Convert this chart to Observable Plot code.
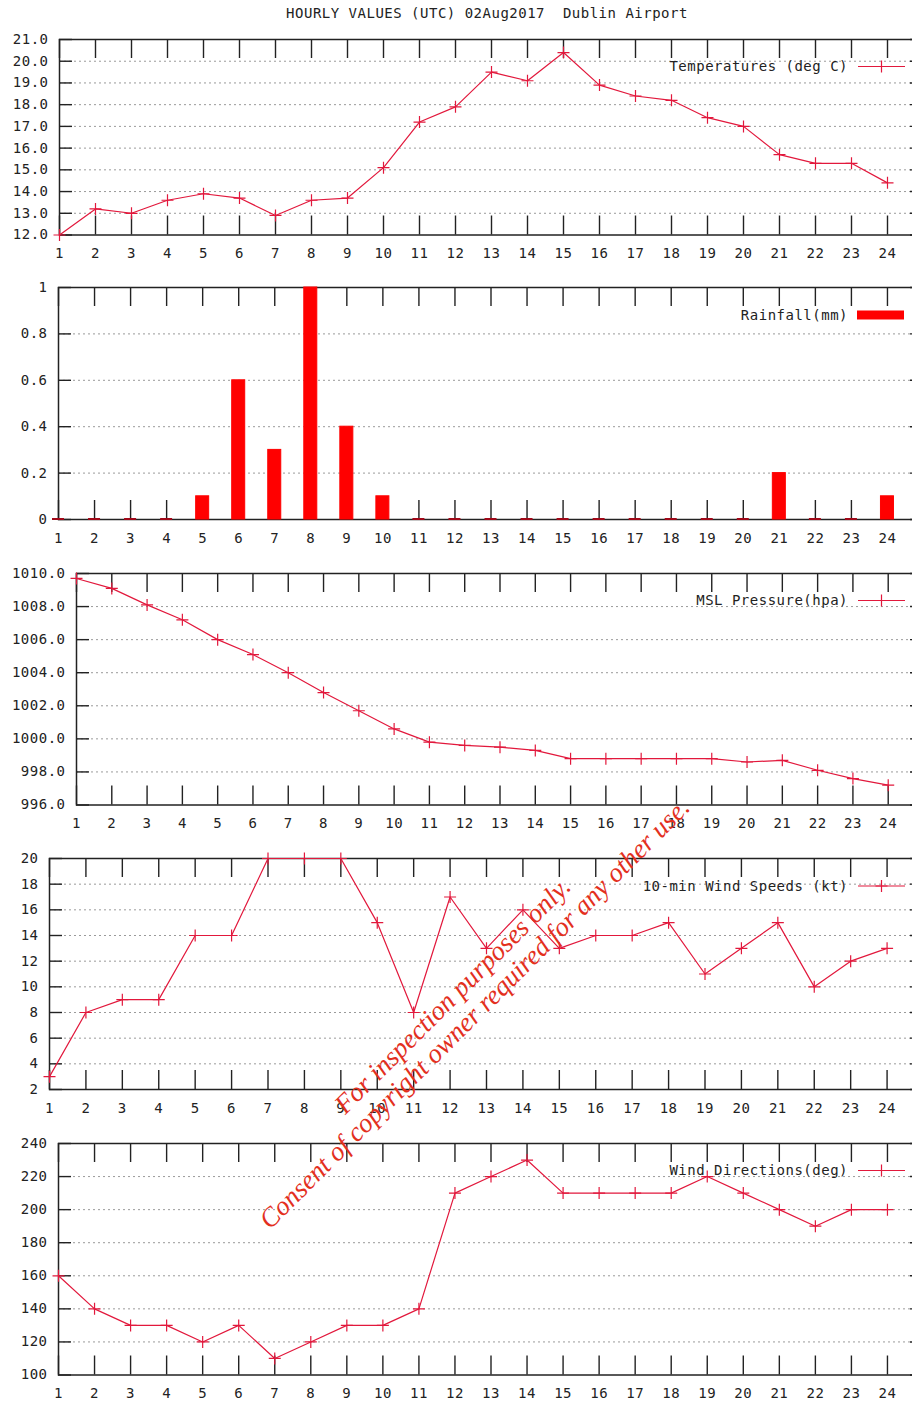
<!DOCTYPE html>
<html>
<head>
<meta charset="utf-8">
<script src="https://cdn.jsdelivr.net/npm/d3@7"></script>
<script src="https://cdn.jsdelivr.net/npm/@observablehq/plot@0.6"></script>
<style>
  html, body { margin: 0; padding: 0; background: #fff; overflow: hidden; }
  #wrap { position: relative; width: 912px; height: 1403px; overflow: hidden; background: #fff; }
  .panel { position: absolute; left: 0; max-width: none !important; }
  #title { position: absolute; left: 0; width: 974px; top: 5px; text-align: center; white-space: pre;
           font-family: "DejaVu Sans Mono", monospace; font-size: 14px; letter-spacing: 0.5px; color: #222; }
  #overlay { position: absolute; left: 0; top: 0; pointer-events: none; }
</style>
</head>
<body>
<div id="wrap">
  <div id="title">HOURLY VALUES (UTC) 02Aug2017  Dublin Airport</div>
</div>
<script>
// ---- data ----
const hours = [1,2,3,4,5,6,7,8,9,10,11,12,13,14,15,16,17,18,19,20,21,22,23,24];
const temperatures = [12.0,13.2,13.0,13.6,13.9,13.7,12.9,13.6,13.7,15.1,17.2,17.9,19.5,19.1,20.4,18.9,18.4,18.2,17.4,17.0,15.7,15.3,15.3,14.4];
const rainfall = [0,0,0,0,0.1,0.6,0.3,1.0,0.4,0.1,0,0,0,0,0,0,0,0,0,0,0.2,0,0,0.1];
const pressure = [1009.7,1009.1,1008.1,1007.2,1006.0,1005.1,1004.0,1002.8,1001.7,1000.6,999.8,999.6,999.5,999.3,998.8,998.8,998.8,998.8,998.8,998.6,998.7,998.1,997.6,997.2];
const windSpeed = [3,8,9,9,14,14,20,20,20,15,8,17,13,16,13,14,14,15,11,13,15,10,12,13];
const windDir = [160,140,130,130,120,130,110,120,130,130,140,210,220,230,210,210,210,210,220,210,200,190,200,200];

const tempTicks = [12,13,14,15,16,17,18,19,20,21];
const rainTicks = [0,0.2,0.4,0.6,0.8,1];
const pressTicks = [996,998,1000,1002,1004,1006,1008,1010];
const speedTicks = [2,4,6,8,10,12,14,16,18,20];
const dirTicks = [100,120,140,160,180,200,220,240];

const legendLabels = ["Temperatures (deg C)", "Rainfall(mm)", "MSL Pressure(hpa)", "10-min Wind Speeds (kt)", "Wind Directions(deg)"];

// ---- style ----
const RED = "#e2183c";
const BAR = "#ff0000";
const INK = "#222";
const FRAME_RIGHT = 923;

const plusSymbol = {
  draw(ctx, size) {
    const r = Math.sqrt(size / Math.PI);
    ctx.moveTo(-r, 0); ctx.lineTo(r, 0);
    ctx.moveTo(0, -r); ctx.lineTo(0, r);
  }
};

function panel(cfg) {
  const {top, bottom, left, domain, ticks, fmt, values, kind} = cfg;
  const W = FRAME_RIGHT - left, H = bottom - top;
  const mt = 10, mb = 35, mr = 6;
  const data = hours.map((h, i) => ({hour: h, value: values[i]}));
  const inner = ticks.slice(1, -1);
  const dataMarks = kind === "bar"
    ? [Plot.rectY(data.filter(d => d.value > 0), {x1: "hour", x2: "hour", y: "value", insetLeft: -6.5, insetRight: -6.5,
         fill: BAR, stroke: BAR, strokeWidth: 1}),
       Plot.rectY(data.filter(d => d.value === 0), {x1: "hour", x2: "hour", y1: "value", y2: "value",
         insetLeft: -6, insetRight: -6, insetTop: -1, insetBottom: -1, fill: "#a00818"})]
    : [Plot.line(data, {x: "hour", y: "value", stroke: RED, strokeWidth: 1.2}),
       Plot.dot(data, {x: "hour", y: "value", symbol: plusSymbol, r: 6, fill: "none", stroke: RED, strokeWidth: 1.2})];
  const chart = Plot.plot({
    width: FRAME_RIGHT + mr, height: H + mt + mb,
    marginLeft: left, marginRight: mr, marginTop: mt, marginBottom: mb,
    x: {domain: [1, 25], ticks: hours, tickSize: 0, tickPadding: 13.5, tickFormat: d => String(d), label: null},
    y: {domain, ticks, tickSize: 0, tickPadding: 11, tickFormat: fmt, label: null},
    style: {fontFamily: "DejaVu Sans Mono, monospace", fontSize: "14px", letterSpacing: "0.5px",
            color: INK, background: "transparent", overflow: "visible", maxWidth: "none"},
    marks: [
      Plot.ruleY(inner, {y: d => d, stroke: "#9a9a9a", strokeDasharray: "2,3", strokeWidth: 1}),
      Plot.tickX(hours, {x: d => d, insetBottom: H - 19, stroke: INK, strokeWidth: 1.4}),
      Plot.tickX(hours, {x: d => d, insetTop: H - 19, stroke: INK, strokeWidth: 1.4}),
      Plot.tickY(ticks, {y: d => d, insetRight: W - 13, stroke: INK, strokeWidth: 1.4}),
      Plot.tickY(ticks, {y: d => d, insetLeft: W - 13, stroke: INK, strokeWidth: 1.4}),
      Plot.frame({stroke: INK, strokeWidth: 1.5}),
      ...dataMarks
    ]
  });
  chart.classList.add("panel");
  chart.style.maxWidth = "none";
  chart.style.top = (top - mt) + "px";
  document.getElementById("wrap").appendChild(chart);
}

const f1 = d3.format(".1f");
const panels = [
  {top: 38.5, bottom: 234, left: 59, domain: [12, 21], ticks: tempTicks, fmt: f1, values: temperatures, kind: "line"},
  {top: 287, bottom: 519, left: 58, domain: [0, 1], ticks: rainTicks, fmt: d => String(d), values: rainfall, kind: "bar"},
  {top: 572.5, bottom: 804, left: 76, domain: [996, 1010], ticks: pressTicks, fmt: f1, values: pressure, kind: "line"},
  {top: 858, bottom: 1089, left: 49, domain: [2, 20], ticks: speedTicks, fmt: d => String(d), values: windSpeed, kind: "line"},
  {top: 1142.5, bottom: 1374, left: 58, domain: [100, 240], ticks: dirTicks, fmt: d => String(d), values: windDir, kind: "line"}
];
panels.forEach(panel);

// ---- legends and watermark overlay ----
const svg = d3.select("#wrap").append("svg").attr("id", "overlay").attr("width", 912).attr("height", 1403);
panels.forEach((p, i) => {
  const y = p.top + 28;
  svg.append("text").attr("x", 848).attr("y", y).attr("dy", "0.35em").attr("text-anchor", "end")
    .attr("fill", INK).style("font-family", "DejaVu Sans Mono, monospace").style("font-size", "14px")
    .style("letter-spacing", "0.5px").text(legendLabels[i]);
  if (p.kind === "bar") {
    svg.append("rect").attr("x", 857).attr("y", y - 4.5).attr("width", 47).attr("height", 9).attr("fill", BAR);
  } else {
    svg.append("line").attr("x1", 858).attr("x2", 905).attr("y1", y).attr("y2", y).attr("stroke", RED).attr("stroke-width", 1.2);
    svg.append("path").attr("d", `M${881.5 - 6},${y}h12M881.5,${y - 6}v12`).attr("stroke", RED).attr("stroke-width", 1.2);
  }
});

const wm = [
  {text: "For inspection purposes only.", cx: 452, cy: 995},
  {text: "Consent of copyright owner required for any other use.", cx: 474, cy: 1013}
];
wm.forEach(w => {
  svg.append("text").attr("x", w.cx).attr("y", w.cy).attr("dy", "0.35em").attr("text-anchor", "middle")
    .attr("transform", `rotate(-45, ${w.cx}, ${w.cy})`)
    .attr("fill", "#e3301e").style("font-family", "Liberation Serif, serif").style("font-style", "italic")
    .style("font-size", "27px").text(w.text);
});
</script>
</body>
</html>
